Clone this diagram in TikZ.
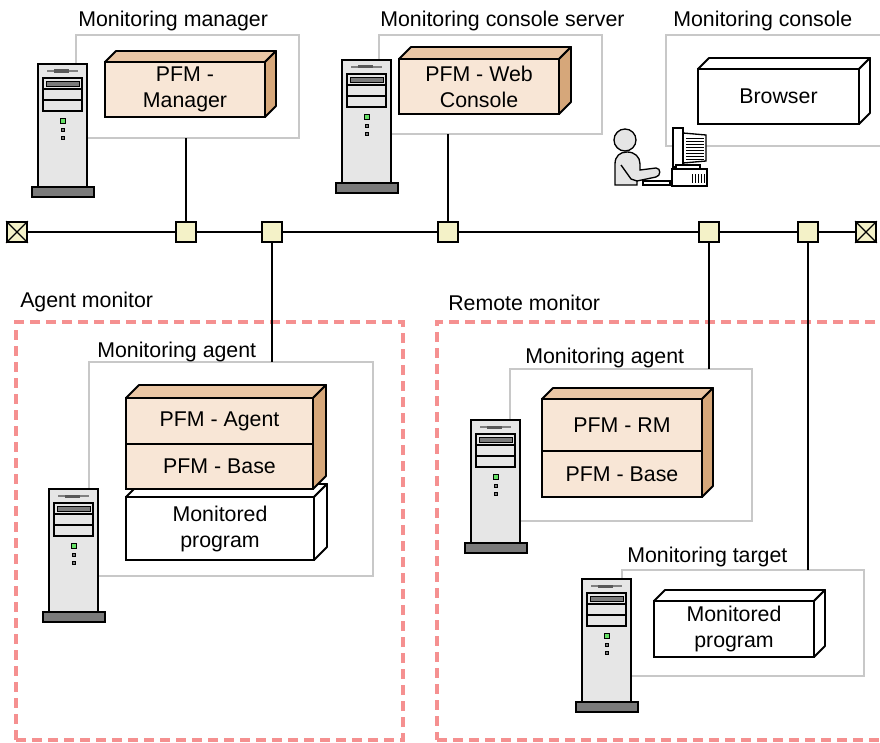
\documentclass[tikz,border=0pt]{standalone}
\usepackage{fontspec}
\setmainfont{Liberation Sans}
\usetikzlibrary{calc,fit}

\definecolor{pfmfront}{HTML}{F8E6D6}
\definecolor{pfmtop}{HTML}{EAC6A4}
\definecolor{pfmside}{HTML}{D6A77A}
\definecolor{hostgray}{HTML}{C8C8C8}
\definecolor{zonepink}{HTML}{F59090}
\definecolor{junctionfill}{HTML}{F4F2C8}
\definecolor{towergray}{HTML}{E6E6E6}
\definecolor{basegray}{HTML}{7A7A7A}
\definecolor{ledgreen}{HTML}{66E066}

\tikzset{
  hostbox/.style={draw=hostgray, line width=1.1pt, inner sep=0pt, outer sep=0pt},
  zone/.style={draw=zonepink, line width=2.6pt, dash pattern=on 7.5pt off 4.5pt, inner sep=0pt},
  front/.style={draw, line width=1.4pt, fill=pfmfront, inner sep=0pt, outer sep=0pt},
  whitefront/.style={front, fill=white},
  boxtext/.style={align=center, inner sep=0pt},
  lbl/.style={inner sep=0pt, anchor=base west},
  junction/.style={draw, line width=1.2pt, fill=junctionfill, minimum size=15pt, inner sep=0pt},
  wire/.style={line width=1.4pt},
}

% top face and right face of a box: top node, bottom node, depth, colours
\newcommand\cubeedges[5]{%
  \draw[line width=1.4pt, line join=round, fill=#4] (#1.north west) -- ++(#3,-#3)
    -- ($(#1.north east)+(#3,-#3)$) -- (#1.north east) -- cycle;
  \draw[line width=1.4pt, line join=round, fill=#5] (#1.north east) -- ++(#3,-#3)
    -- ($(#2.south east)+(#3,-#3)$) -- (#2.south east) -- cycle;
}

% server tower, body corner at #1,#2
\newcommand\tower[2]{%
  \begin{scope}[shift={(#1,#2)}]
    \draw[line width=1.2pt, fill=towergray] (0,0) rectangle (49,123);
    \draw[line width=0.8pt, gray] (9,7) -- (40,7);
    \fill[gray!70!black] (16,5.5) rectangle (31,8.5);
    \draw[line width=0.9pt] (5,14) rectangle (44,47);
    \draw[line width=0.9pt] (5,25) -- (44,25) (5,36) -- (44,36);
    \draw[line width=0.7pt, fill=basegray] (8,17) rectangle (41,22);
    \draw[line width=0.6pt, fill=ledgreen] (22,54) rectangle (27,59);
    \draw[line width=0.6pt, fill=basegray] (23,64) rectangle (26,67);
    \draw[line width=0.6pt, fill=basegray] (23,72) rectangle (26,75);
    \draw[line width=1.2pt, fill=basegray] (-6,123) rectangle (56,133);
  \end{scope}}

\begin{document}
\begin{tikzpicture}[x=0.75pt, y=-0.75pt, font=\fontsize{16}{19.5}\selectfont]
\useasboundingbox (0,0) rectangle (880,742);

% monitoring manager
\node[hostbox, fit={(76,35) (299,138)}] (mgrhost) {};
\node[lbl] (mgrlbl) at (78,27) {Monitoring manager};
\tower{38}{64}
\node[front, fit={(105,62) (265,117)}] (mgr) {};
\cubeedges{mgr}{mgr}{11}{pfmtop}{pfmside}
\node[boxtext] (mgrtext) at (mgr) {PFM -\\Manager};

% monitoring console server
\node[hostbox, fit={(379,35) (602,134)}] (wchost) {};
\node[lbl] (wclbl) at (380,27) {Monitoring console server};
\tower{342}{60}
\node[front, fit={(399,59) (559,114)}] (wc) {};
\cubeedges{wc}{wc}{12}{pfmtop}{pfmside}
\node[boxtext] (wctext) at (wc) {PFM - Web\\Console};

% monitoring console
\node[hostbox, fit={(666,35) (895,146)}] (conhost) {};
\node[lbl] (conlbl) at (673,27) {Monitoring console};
\node[whitefront, fit={(698,69) (859,124)}] (browser) {};
\cubeedges{browser}{browser}{11}{white}{white}
\node[boxtext] (browsertext) at (browser) {Browser};

% operator at the terminal
\draw[line width=1pt, fill=gray!20] (615,185) -- (615,164) .. controls (615,156) and (620,152) .. (627,152)
  .. controls (635,152) and (640,157) .. (640,164) -- (640,170) -- (656,168)
  .. controls (661,168) and (661,176) .. (656,177) -- (637,181) -- (637,185) -- cycle;
\draw[line width=1pt] (621,165) -- (631,179) -- (637,181);
\draw[line width=1pt, fill=gray!20] (625,140) circle (11);
\draw[line width=1pt, fill=white] (643,181) rectangle (670,185);
\draw[line width=1pt, fill=white] (683,133) -- (706,135) -- (706,161) -- (683,163) -- cycle;
\foreach \y in {138,141,...,159} \draw[line width=0.6pt] (686,\y) -- (704,\y);
\draw[line width=1pt, fill=white] (673,128) rectangle (683,167);
\draw[line width=1pt, fill=white] (676,165) rectangle (700,169);
\draw[line width=1pt, fill=white] (672,169) rectangle (707,186);
\foreach \x in {692,695,...,704} \draw[line width=0.6pt] (\x,174) -- (\x,183);

% agent monitor
\node[zone, fit={(16,322) (403,740)}] (agentzone) {};
\node[lbl] (agentzonelbl) at (20,307) {Agent monitor};
\node[hostbox, fit={(89,362) (373,576)}] (agenthost) {};
\node[lbl] (agentlbl) at (97,357) {Monitoring agent};
\tower{49}{489}
\node[whitefront, fit={(126,497) (314,560)}] (prog) {};
\cubeedges{prog}{prog}{13}{white}{white}
\node[boxtext] (progtext) at (prog) {Monitored\\program};
\node[front, fit={(126,398) (313,444)}] (agent) {};
\node[front, fit={(126,444) (313,489)}] (agentbase) {};
\cubeedges{agent}{agentbase}{13}{pfmtop}{pfmside}
\node[boxtext] (agenttext) at (agent) {PFM - Agent};
\node[boxtext] (agentbasetext) at (agentbase) {PFM - Base};

% remote monitor
\node[zone, fit={(437,322) (895,740)}] (remotezone) {};
\node[lbl] (remotezonelbl) at (448,310) {Remote monitor};
\node[hostbox, fit={(510,369) (752,521)}] (rmhost) {};
\node[lbl] (rmlbl) at (525,363) {Monitoring agent};
\tower{471}{420}
\node[front, fit={(542,399) (702,451)}] (rm) {};
\node[front, fit={(542,451) (702,497)}] (rmbase) {};
\cubeedges{rm}{rmbase}{11}{pfmtop}{pfmside}
\node[boxtext] (rmtext) at (rm) {PFM - RM};
\node[boxtext] (rmbasetext) at (rmbase) {PFM - Base};

% monitoring target
\node[hostbox, fit={(622,570) (864,676)}] (targethost) {};
\node[lbl] (targetlbl) at (627,562) {Monitoring target};
\tower{582}{579}
\node[whitefront, fit={(654,601) (814,657)}] (targetprog) {};
\cubeedges{targetprog}{targetprog}{11}{white}{white}
\node[boxtext] (targetprogtext) at (targetprog) {Monitored\\program};

% network
\node[junction] (tl) at (17,232) {};
\node[junction] (tr) at (866,232) {};
\node[junction] (j1) at (186,232) {};
\node[junction] (j2) at (272,232) {};
\node[junction] (j3) at (448,232) {};
\node[junction] (j4) at (709,232) {};
\node[junction] (j5) at (808,232) {};
\draw[line width=1pt] (tl.north west) -- (tl.south east) (tl.north east) -- (tl.south west);
\draw[line width=1pt] (tr.north west) -- (tr.south east) (tr.north east) -- (tr.south west);
\draw[wire] (tl) -- (j1) -- (j2) -- (j3) -- (j4) -- (j5) -- (tr);

% drops to the hosts
\draw[wire] (j1) -- (j1 |- mgrhost.south);
\draw[wire] (j3) -- (j3 |- wchost.south);
\draw[wire] (j2) -- (j2 |- agenthost.north);
\draw[wire] (j4) -- (j4 |- rmhost.north);
\draw[wire] (j5) -- (j5 |- targethost.north);

\end{tikzpicture}
\end{document}
